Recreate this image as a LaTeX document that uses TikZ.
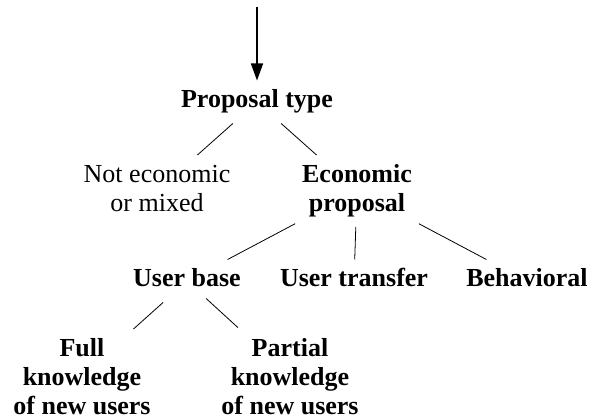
\documentclass[tikz,border=0pt]{standalone}
\usepackage{fontspec}
\setmainfont{Liberation Serif}
\usetikzlibrary{arrows.meta}
\tikzset{
	item/.style={align=center, inner sep=0pt, outer sep=7pt, font=\fontsize{26}{29}\selectfont},
	head/.style={item, font=\fontsize{26}{29}\selectfont\bfseries},
	branch/.style={line width=0.8pt}
}
\begin{document}
\begin{tikzpicture}[x=1pt, y=-1pt]
	\useasboundingbox (0,0) rectangle (592,419);
	\coordinate (start) at (257,7);
	\node[head] (type) at (257,102) {\strut Proposal type};
	\node[item] (noecon) at (157,191) {\strut Not economic\\\strut or mixed};
	\node[head] (econ) at (357,191) {\strut Economic\\\strut proposal};
	\node[head] (base) at (187,281) {\strut User base};
	\node[head] (transfer) at (354,281) {\strut User transfer};
	\node[head] (behav) at (527,281) {\strut Behavioral};
	\node[head, anchor=north] (full) at (82,329) {\strut Full\\\strut knowledge\\of new users};
	\node[head, anchor=north] (partial) at (290,329) {\strut Partial\\\strut knowledge\\of new users};
	\draw[-{Triangle[length=17pt,width=12pt]}, line width=1.6pt] (start) -- (type);
	\draw[branch] (type) -- (noecon)
	(type) -- (econ);
	\draw[branch] (econ) -- (base)
	(econ) -- (transfer)
	(econ) -- (behav);
	\draw[branch, shorten <=-6pt, shorten >=2pt] (base) -- (full)
	(base) -- (partial);
\end{tikzpicture}
\end{document}
